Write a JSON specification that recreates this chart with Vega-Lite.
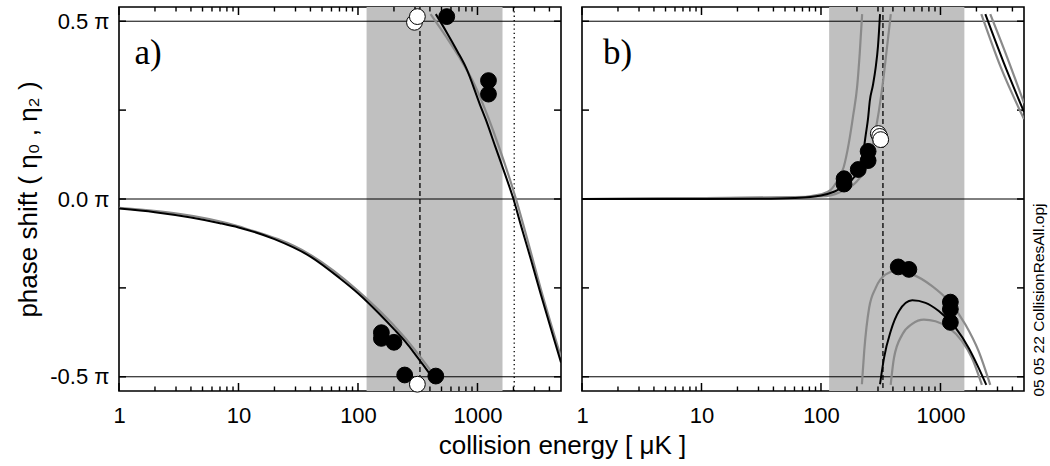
{
  "$schema": "https://vega.github.io/schema/vega-lite/v6.json",
  "background": "white",
  "padding": {"left": 14, "top": 5, "right": 5, "bottom": 5},
  "config": {
    "view": {"stroke": "black", "strokeWidth": 1.6},
    "font": "Liberation Sans",
    "axis": {"domain": false, "grid": false, "ticks": false, "tickSize": 0, "labelFont": "Liberation Sans", "titleFont": "Liberation Sans", "labelColor": "black", "titleColor": "black", "titleFontWeight": "normal", "labelFlush": false, "labelOverlap": false}
  },
  "datasets": {
    "bandA": [{"lo": 118, "hi": 1620}],
    "bandB": [{"lo": 117, "hi": 1585}],
    "hlines": [{"v": 0.5}, {"v": 0}, {"v": -0.5}],
    "vlinesA": [{"E": 330, "marker": "resonance"}, {"E": 2030, "marker": "zero crossing"}],
    "vlinesB": [{"E": 330, "marker": "resonance"}],
    "xMajor": [{"E": 1}, {"E": 10}, {"E": 100}, {"E": 1000}],
    "xMinor": [{"E": 2}, {"E": 3}, {"E": 4}, {"E": 5}, {"E": 6}, {"E": 7}, {"E": 8}, {"E": 9}, {"E": 20}, {"E": 30}, {"E": 40}, {"E": 50}, {"E": 60}, {"E": 70}, {"E": 80}, {"E": 90}, {"E": 200}, {"E": 300}, {"E": 400}, {"E": 500}, {"E": 600}, {"E": 700}, {"E": 800}, {"E": 900}, {"E": 2000}, {"E": 3000}, {"E": 4000}],
    "yTicks": [{"v": -0.5}, {"v": -0.25}, {"v": 0}, {"v": 0.25}, {"v": 0.5}],
    "curvesA": [
      {"curve": "a1g", "kind": "error", "E": 1, "v": -0.025}, {"curve": "a1g", "kind": "error", "E": 10, "v": -0.077}, {"curve": "a1g", "kind": "error", "E": 40, "v": -0.157}, {"curve": "a1g", "kind": "error", "E": 100, "v": -0.258}, {"curve": "a1g", "kind": "error", "E": 150, "v": -0.313}, {"curve": "a1g", "kind": "error", "E": 200, "v": -0.356}, {"curve": "a1g", "kind": "error", "E": 250, "v": -0.392}, {"curve": "a1g", "kind": "error", "E": 300, "v": -0.425}, {"curve": "a1g", "kind": "error", "E": 350, "v": -0.454}, {"curve": "a1g", "kind": "error", "E": 400, "v": -0.48}, {"curve": "a1g", "kind": "error", "E": 420, "v": -0.49},
      {"curve": "a1b", "kind": "best", "E": 1, "v": -0.027}, {"curve": "a1b", "kind": "best", "E": 2, "v": -0.037}, {"curve": "a1b", "kind": "best", "E": 4, "v": -0.052}, {"curve": "a1b", "kind": "best", "E": 7, "v": -0.068}, {"curve": "a1b", "kind": "best", "E": 10, "v": -0.08}, {"curve": "a1b", "kind": "best", "E": 20, "v": -0.113}, {"curve": "a1b", "kind": "best", "E": 40, "v": -0.162}, {"curve": "a1b", "kind": "best", "E": 70, "v": -0.222}, {"curve": "a1b", "kind": "best", "E": 100, "v": -0.265}, {"curve": "a1b", "kind": "best", "E": 150, "v": -0.322}, {"curve": "a1b", "kind": "best", "E": 200, "v": -0.366}, {"curve": "a1b", "kind": "best", "E": 250, "v": -0.402}, {"curve": "a1b", "kind": "best", "E": 300, "v": -0.436}, {"curve": "a1b", "kind": "best", "E": 350, "v": -0.466}, {"curve": "a1b", "kind": "best", "E": 393, "v": -0.489},
      {"curve": "a2g", "kind": "error", "E": 405, "v": 0.52}, {"curve": "a2g", "kind": "error", "E": 550, "v": 0.455}, {"curve": "a2g", "kind": "error", "E": 700, "v": 0.4}, {"curve": "a2g", "kind": "error", "E": 950, "v": 0.32}, {"curve": "a2g", "kind": "error", "E": 1250, "v": 0.223}, {"curve": "a2g", "kind": "error", "E": 1500, "v": 0.15}, {"curve": "a2g", "kind": "error", "E": 2100, "v": 0}, {"curve": "a2g", "kind": "error", "E": 2500, "v": -0.09}, {"curve": "a2g", "kind": "error", "E": 3500, "v": -0.27}, {"curve": "a2g", "kind": "error", "E": 5000, "v": -0.445},
      {"curve": "a2b", "kind": "best", "E": 448, "v": 0.52}, {"curve": "a2b", "kind": "best", "E": 550, "v": 0.47}, {"curve": "a2b", "kind": "best", "E": 680, "v": 0.415}, {"curve": "a2b", "kind": "best", "E": 800, "v": 0.37}, {"curve": "a2b", "kind": "best", "E": 1050, "v": 0.265}, {"curve": "a2b", "kind": "best", "E": 1175, "v": 0.223}, {"curve": "a2b", "kind": "best", "E": 1400, "v": 0.15}, {"curve": "a2b", "kind": "best", "E": 1700, "v": 0.07}, {"curve": "a2b", "kind": "best", "E": 2000, "v": 0}, {"curve": "a2b", "kind": "best", "E": 2300, "v": -0.072}, {"curve": "a2b", "kind": "best", "E": 2800, "v": -0.17}, {"curve": "a2b", "kind": "best", "E": 3400, "v": -0.27}, {"curve": "a2b", "kind": "best", "E": 4200, "v": -0.375}, {"curve": "a2b", "kind": "best", "E": 5000, "v": -0.46}
    ],
    "curvesB": [
      {"curve": "b1gl", "kind": "error", "E": 1, "v": 0}, {"curve": "b1gl", "kind": "error", "E": 60, "v": 0.004}, {"curve": "b1gl", "kind": "error", "E": 100, "v": 0.013}, {"curve": "b1gl", "kind": "error", "E": 120, "v": 0.025}, {"curve": "b1gl", "kind": "error", "E": 136, "v": 0.05}, {"curve": "b1gl", "kind": "error", "E": 155, "v": 0.09}, {"curve": "b1gl", "kind": "error", "E": 171, "v": 0.157}, {"curve": "b1gl", "kind": "error", "E": 186, "v": 0.235}, {"curve": "b1gl", "kind": "error", "E": 201, "v": 0.318}, {"curve": "b1gl", "kind": "error", "E": 211, "v": 0.41}, {"curve": "b1gl", "kind": "error", "E": 221, "v": 0.52},
      {"curve": "b1gr", "kind": "error", "E": 1, "v": 0}, {"curve": "b1gr", "kind": "error", "E": 100, "v": 0.007}, {"curve": "b1gr", "kind": "error", "E": 150, "v": 0.022}, {"curve": "b1gr", "kind": "error", "E": 200, "v": 0.05}, {"curve": "b1gr", "kind": "error", "E": 240, "v": 0.09}, {"curve": "b1gr", "kind": "error", "E": 265, "v": 0.135}, {"curve": "b1gr", "kind": "error", "E": 285, "v": 0.19}, {"curve": "b1gr", "kind": "error", "E": 306, "v": 0.25}, {"curve": "b1gr", "kind": "error", "E": 327, "v": 0.318}, {"curve": "b1gr", "kind": "error", "E": 355, "v": 0.42}, {"curve": "b1gr", "kind": "error", "E": 384, "v": 0.52},
      {"curve": "b2gu", "kind": "error", "E": 220, "v": -0.521}, {"curve": "b2gu", "kind": "error", "E": 230, "v": -0.428}, {"curve": "b2gu", "kind": "error", "E": 253, "v": -0.306}, {"curve": "b2gu", "kind": "error", "E": 287, "v": -0.25}, {"curve": "b2gu", "kind": "error", "E": 348, "v": -0.212}, {"curve": "b2gu", "kind": "error", "E": 422, "v": -0.203}, {"curve": "b2gu", "kind": "error", "E": 580, "v": -0.212}, {"curve": "b2gu", "kind": "error", "E": 851, "v": -0.245}, {"curve": "b2gu", "kind": "error", "E": 1172, "v": -0.287}, {"curve": "b2gu", "kind": "error", "E": 1616, "v": -0.353}, {"curve": "b2gu", "kind": "error", "E": 2085, "v": -0.428}, {"curve": "b2gu", "kind": "error", "E": 2610, "v": -0.523},
      {"curve": "b2gd", "kind": "error", "E": 383, "v": -0.523}, {"curve": "b2gd", "kind": "error", "E": 408, "v": -0.447}, {"curve": "b2gd", "kind": "error", "E": 479, "v": -0.381}, {"curve": "b2gd", "kind": "error", "E": 580, "v": -0.351}, {"curve": "b2gd", "kind": "error", "E": 726, "v": -0.339}, {"curve": "b2gd", "kind": "error", "E": 908, "v": -0.344}, {"curve": "b2gd", "kind": "error", "E": 1172, "v": -0.362}, {"curve": "b2gd", "kind": "error", "E": 1514, "v": -0.4}, {"curve": "b2gd", "kind": "error", "E": 1835, "v": -0.447}, {"curve": "b2gd", "kind": "error", "E": 2222, "v": -0.523},
      {"curve": "b3gl", "kind": "error", "E": 2197, "v": 0.52}, {"curve": "b3gl", "kind": "error", "E": 3200, "v": 0.37}, {"curve": "b3gl", "kind": "error", "E": 5000, "v": 0.225},
      {"curve": "b3gr", "kind": "error", "E": 2610, "v": 0.52}, {"curve": "b3gr", "kind": "error", "E": 3600, "v": 0.4}, {"curve": "b3gr", "kind": "error", "E": 5000, "v": 0.27},
      {"curve": "b1b", "kind": "best", "E": 1, "v": 0}, {"curve": "b1b", "kind": "best", "E": 10, "v": 0}, {"curve": "b1b", "kind": "best", "E": 30, "v": 0.0005}, {"curve": "b1b", "kind": "best", "E": 60, "v": 0.003}, {"curve": "b1b", "kind": "best", "E": 100, "v": 0.01}, {"curve": "b1b", "kind": "best", "E": 130, "v": 0.021}, {"curve": "b1b", "kind": "best", "E": 160, "v": 0.038}, {"curve": "b1b", "kind": "best", "E": 190, "v": 0.062}, {"curve": "b1b", "kind": "best", "E": 210, "v": 0.088}, {"curve": "b1b", "kind": "best", "E": 222, "v": 0.115}, {"curve": "b1b", "kind": "best", "E": 237, "v": 0.181}, {"curve": "b1b", "kind": "best", "E": 248, "v": 0.228}, {"curve": "b1b", "kind": "best", "E": 256, "v": 0.275}, {"curve": "b1b", "kind": "best", "E": 272, "v": 0.32}, {"curve": "b1b", "kind": "best", "E": 287, "v": 0.37}, {"curve": "b1b", "kind": "best", "E": 300, "v": 0.43}, {"curve": "b1b", "kind": "best", "E": 312, "v": 0.52},
      {"curve": "b2b", "kind": "best", "E": 312, "v": -0.521}, {"curve": "b2b", "kind": "best", "E": 337, "v": -0.447}, {"curve": "b2b", "kind": "best", "E": 383, "v": -0.372}, {"curve": "b2b", "kind": "best", "E": 450, "v": -0.315}, {"curve": "b2b", "kind": "best", "E": 580, "v": -0.285}, {"curve": "b2b", "kind": "best", "E": 750, "v": -0.292}, {"curve": "b2b", "kind": "best", "E": 968, "v": -0.315}, {"curve": "b2b", "kind": "best", "E": 1334, "v": -0.362}, {"curve": "b2b", "kind": "best", "E": 1722, "v": -0.419}, {"curve": "b2b", "kind": "best", "E": 2085, "v": -0.475}, {"curve": "b2b", "kind": "best", "E": 2418, "v": -0.523},
      {"curve": "b3b", "kind": "best", "E": 2373, "v": 0.52}, {"curve": "b3b", "kind": "best", "E": 3368, "v": 0.385}, {"curve": "b3b", "kind": "best", "E": 5000, "v": 0.245}
    ],
    "pointsA": [
      {"E": 553, "v": 0.513, "type": "filled"}, {"E": 1236, "v": 0.333, "type": "filled"}, {"E": 1236, "v": 0.295, "type": "filled"}, {"E": 157, "v": -0.376, "type": "filled"}, {"E": 157, "v": -0.392, "type": "filled"}, {"E": 200, "v": -0.403, "type": "filled"}, {"E": 246, "v": -0.495, "type": "filled"}, {"E": 448, "v": -0.498, "type": "filled"},
      {"E": 297, "v": 0.497, "type": "open"}, {"E": 314, "v": 0.513, "type": "open"}, {"E": 314, "v": -0.521, "type": "open"}
    ],
    "pointsB": [
      {"E": 156, "v": 0.042, "type": "filled"}, {"E": 156, "v": 0.057, "type": "filled"}, {"E": 205, "v": 0.083, "type": "filled"}, {"E": 248, "v": 0.108, "type": "filled"}, {"E": 248, "v": 0.134, "type": "filled"}, {"E": 443, "v": -0.191, "type": "filled"}, {"E": 544, "v": -0.198, "type": "filled"}, {"E": 1210, "v": -0.29, "type": "filled"}, {"E": 1210, "v": -0.31, "type": "filled"}, {"E": 1210, "v": -0.347, "type": "filled"},
      {"E": 302, "v": 0.184, "type": "open"}, {"E": 310, "v": 0.176, "type": "open"}, {"E": 316, "v": 0.167, "type": "open"}
    ],
    "one": [{}]
  },
  "spacing": 21,
  "bounds": "flush",
  "hconcat": [
    {
      "width": 442,
      "height": 384,
      "layer": [
        {
          "data": {"name": "bandA"},
          "mark": {"type": "rect", "color": "#c0c0c0"},
          "encoding": {
            "x": {"field": "lo", "type": "quantitative", "scale": {"type": "log", "domain": [1, 5000]}, "axis": {"orient": "bottom", "values": [1, 10, 100, 1000], "format": "d", "labelPadding": 14, "labelFontSize": 22, "title": "collision energy [ μK ]", "titleFontSize": 26, "titleX": 443, "titlePadding": 6}},
            "x2": {"field": "hi"}
          }
        },
        {
          "data": {"name": "hlines"},
          "mark": {"type": "rule", "color": "black", "strokeWidth": 1},
          "encoding": {
            "y": {"field": "v", "type": "quantitative", "scale": {"domain": [-0.54, 0.54]}, "axis": {"orient": "left", "values": [-0.5, 0, 0.5], "labelPadding": 10, "labelFontSize": 22, "labelExpr": "datum.value == 0.5 ? '0.5 π' : datum.value == 0 ? '0.0 π' : '-0.5 π'", "title": "phase shift ( η₀ , η₂ )", "titleFontSize": 26, "titlePadding": 8}}
          }
        },
        {
          "data": {"name": "vlinesA"},
          "mark": {"type": "rule", "color": "black", "strokeWidth": 1.3},
          "encoding": {
            "x": {"field": "E", "type": "quantitative", "scale": {"type": "log", "domain": [1, 5000]}, "axis": null},
            "strokeDash": {"field": "marker", "type": "nominal", "scale": {"domain": ["resonance", "zero crossing"], "range": [[5, 3], [1.3, 3]]}, "legend": null}
          }
        },
        {
          "data": {"name": "xMajor"},
          "mark": {"type": "rule", "color": "black", "strokeWidth": 1.5},
          "encoding": {
            "x": {"field": "E", "type": "quantitative", "scale": {"type": "log", "domain": [1, 5000]}, "axis": null},
            "y": {"datum": -0.54, "type": "quantitative", "scale": {"domain": [-0.54, 0.54]}, "axis": null},
            "y2": {"datum": -0.5175}
          }
        },
        {
          "data": {"name": "xMajor"},
          "mark": {"type": "rule", "color": "black", "strokeWidth": 1.5},
          "encoding": {
            "x": {"field": "E", "type": "quantitative", "scale": {"type": "log", "domain": [1, 5000]}, "axis": null},
            "y": {"datum": 0.54, "type": "quantitative", "scale": {"domain": [-0.54, 0.54]}, "axis": null},
            "y2": {"datum": 0.5175}
          }
        },
        {
          "data": {"name": "xMinor"},
          "mark": {"type": "rule", "color": "black", "strokeWidth": 1.4},
          "encoding": {
            "x": {"field": "E", "type": "quantitative", "scale": {"type": "log", "domain": [1, 5000]}, "axis": null},
            "y": {"datum": -0.54, "type": "quantitative", "scale": {"domain": [-0.54, 0.54]}, "axis": null},
            "y2": {"datum": -0.5273}
          }
        },
        {
          "data": {"name": "xMinor"},
          "mark": {"type": "rule", "color": "black", "strokeWidth": 1.4},
          "encoding": {
            "x": {"field": "E", "type": "quantitative", "scale": {"type": "log", "domain": [1, 5000]}, "axis": null},
            "y": {"datum": 0.54, "type": "quantitative", "scale": {"domain": [-0.54, 0.54]}, "axis": null},
            "y2": {"datum": 0.5273}
          }
        },
        {
          "data": {"name": "yTicks"},
          "mark": {"type": "rule", "color": "black", "strokeWidth": 1.5},
          "encoding": {
            "y": {"field": "v", "type": "quantitative", "scale": {"domain": [-0.54, 0.54]}, "axis": null},
            "x": {"datum": 1, "type": "quantitative", "scale": {"type": "log", "domain": [1, 5000]}, "axis": null},
            "x2": {"datum": 1.144}
          }
        },
        {
          "data": {"name": "yTicks"},
          "mark": {"type": "rule", "color": "black", "strokeWidth": 1.5},
          "encoding": {
            "y": {"field": "v", "type": "quantitative", "scale": {"domain": [-0.54, 0.54]}, "axis": null},
            "x": {"datum": 5000, "type": "quantitative", "scale": {"type": "log", "domain": [1, 5000]}, "axis": null},
            "x2": {"datum": 4371}
          }
        },
        {
          "data": {"name": "curvesA"},
          "transform": [{"filter": "datum.kind == 'error'"}],
          "mark": {"type": "line", "color": "#8a8a8a", "strokeWidth": 2.2, "clip": true, "interpolate": "monotone"},
          "encoding": {
            "x": {"field": "E", "type": "quantitative", "scale": {"type": "log", "domain": [1, 5000]}, "axis": null},
            "y": {"field": "v", "type": "quantitative", "scale": {"domain": [-0.54, 0.54]}, "axis": null},
            "detail": {"field": "curve"}
          }
        },
        {
          "data": {"name": "curvesA"},
          "transform": [{"filter": "datum.kind == 'best'"}],
          "mark": {"type": "line", "color": "black", "strokeWidth": 2, "clip": true, "interpolate": "monotone"},
          "encoding": {
            "x": {"field": "E", "type": "quantitative", "scale": {"type": "log", "domain": [1, 5000]}, "axis": null},
            "y": {"field": "v", "type": "quantitative", "scale": {"domain": [-0.54, 0.54]}, "axis": null},
            "detail": {"field": "curve"}
          }
        },
        {
          "data": {"name": "pointsA"},
          "mark": {"type": "circle", "size": 250, "stroke": "black", "strokeWidth": 1, "opacity": 1},
          "encoding": {
            "x": {"field": "E", "type": "quantitative", "scale": {"type": "log", "domain": [1, 5000]}, "axis": null},
            "y": {"field": "v", "type": "quantitative", "scale": {"domain": [-0.54, 0.54]}, "axis": null},
            "fill": {"field": "type", "type": "nominal", "scale": {"domain": ["filled", "open"], "range": ["black", "white"]}, "legend": null}
          }
        },
        {
          "data": {"name": "one"},
          "mark": {"type": "text", "font": "Liberation Serif", "fontSize": 35, "align": "left", "baseline": "alphabetic"},
          "encoding": {
            "x": {"datum": 1.35, "type": "quantitative", "scale": {"type": "log", "domain": [1, 5000]}, "axis": null},
            "y": {"datum": 0.38, "type": "quantitative", "scale": {"domain": [-0.54, 0.54]}, "axis": null},
            "text": {"value": "a)"}
          }
        }
      ],
      "resolve": {"axis": {"x": "independent", "y": "independent"}}
    },
    {
      "width": 442,
      "height": 384,
      "layer": [
        {
          "data": {"name": "bandB"},
          "mark": {"type": "rect", "color": "#c0c0c0"},
          "encoding": {
            "x": {"field": "lo", "type": "quantitative", "scale": {"type": "log", "domain": [1, 5000]}, "axis": {"orient": "bottom", "values": [1, 10, 100, 1000], "format": "d", "labelPadding": 14, "labelFontSize": 22, "title": null}},
            "x2": {"field": "hi"}
          }
        },
        {
          "data": {"name": "hlines"},
          "mark": {"type": "rule", "color": "black", "strokeWidth": 1},
          "encoding": {
            "y": {"field": "v", "type": "quantitative", "scale": {"domain": [-0.54, 0.54]}, "axis": {"orient": "right", "values": [0], "labels": false, "title": "05 05 22 CollisionResAll.opj", "titleFontSize": 15.5, "titleAngle": -90, "titleAlign": "left", "titleBaseline": "top", "titleY": 389, "titlePadding": 7}}
          }
        },
        {
          "data": {"name": "vlinesB"},
          "mark": {"type": "rule", "color": "black", "strokeWidth": 1.3},
          "encoding": {
            "x": {"field": "E", "type": "quantitative", "scale": {"type": "log", "domain": [1, 5000]}, "axis": null},
            "strokeDash": {"field": "marker", "type": "nominal", "scale": {"domain": ["resonance", "zero crossing"], "range": [[5, 3], [1.3, 3]]}, "legend": null}
          }
        },
        {
          "data": {"name": "xMajor"},
          "mark": {"type": "rule", "color": "black", "strokeWidth": 1.5},
          "encoding": {
            "x": {"field": "E", "type": "quantitative", "scale": {"type": "log", "domain": [1, 5000]}, "axis": null},
            "y": {"datum": -0.54, "type": "quantitative", "scale": {"domain": [-0.54, 0.54]}, "axis": null},
            "y2": {"datum": -0.5175}
          }
        },
        {
          "data": {"name": "xMajor"},
          "mark": {"type": "rule", "color": "black", "strokeWidth": 1.5},
          "encoding": {
            "x": {"field": "E", "type": "quantitative", "scale": {"type": "log", "domain": [1, 5000]}, "axis": null},
            "y": {"datum": 0.54, "type": "quantitative", "scale": {"domain": [-0.54, 0.54]}, "axis": null},
            "y2": {"datum": 0.5175}
          }
        },
        {
          "data": {"name": "xMinor"},
          "mark": {"type": "rule", "color": "black", "strokeWidth": 1.4},
          "encoding": {
            "x": {"field": "E", "type": "quantitative", "scale": {"type": "log", "domain": [1, 5000]}, "axis": null},
            "y": {"datum": -0.54, "type": "quantitative", "scale": {"domain": [-0.54, 0.54]}, "axis": null},
            "y2": {"datum": -0.5273}
          }
        },
        {
          "data": {"name": "xMinor"},
          "mark": {"type": "rule", "color": "black", "strokeWidth": 1.4},
          "encoding": {
            "x": {"field": "E", "type": "quantitative", "scale": {"type": "log", "domain": [1, 5000]}, "axis": null},
            "y": {"datum": 0.54, "type": "quantitative", "scale": {"domain": [-0.54, 0.54]}, "axis": null},
            "y2": {"datum": 0.5273}
          }
        },
        {
          "data": {"name": "yTicks"},
          "mark": {"type": "rule", "color": "black", "strokeWidth": 1.5},
          "encoding": {
            "y": {"field": "v", "type": "quantitative", "scale": {"domain": [-0.54, 0.54]}, "axis": null},
            "x": {"datum": 1, "type": "quantitative", "scale": {"type": "log", "domain": [1, 5000]}, "axis": null},
            "x2": {"datum": 1.144}
          }
        },
        {
          "data": {"name": "yTicks"},
          "mark": {"type": "rule", "color": "black", "strokeWidth": 1.5},
          "encoding": {
            "y": {"field": "v", "type": "quantitative", "scale": {"domain": [-0.54, 0.54]}, "axis": null},
            "x": {"datum": 5000, "type": "quantitative", "scale": {"type": "log", "domain": [1, 5000]}, "axis": null},
            "x2": {"datum": 4371}
          }
        },
        {
          "data": {"name": "curvesB"},
          "transform": [{"filter": "datum.kind == 'error'"}],
          "mark": {"type": "line", "color": "#8a8a8a", "strokeWidth": 2.2, "clip": true, "interpolate": "monotone"},
          "encoding": {
            "x": {"field": "E", "type": "quantitative", "scale": {"type": "log", "domain": [1, 5000]}, "axis": null},
            "y": {"field": "v", "type": "quantitative", "scale": {"domain": [-0.54, 0.54]}, "axis": null},
            "detail": {"field": "curve"}
          }
        },
        {
          "data": {"name": "curvesB"},
          "transform": [{"filter": "datum.kind == 'best'"}],
          "mark": {"type": "line", "color": "black", "strokeWidth": 2, "clip": true, "interpolate": "monotone"},
          "encoding": {
            "x": {"field": "E", "type": "quantitative", "scale": {"type": "log", "domain": [1, 5000]}, "axis": null},
            "y": {"field": "v", "type": "quantitative", "scale": {"domain": [-0.54, 0.54]}, "axis": null},
            "detail": {"field": "curve"}
          }
        },
        {
          "data": {"name": "pointsB"},
          "mark": {"type": "circle", "size": 250, "stroke": "black", "strokeWidth": 1, "opacity": 1},
          "encoding": {
            "x": {"field": "E", "type": "quantitative", "scale": {"type": "log", "domain": [1, 5000]}, "axis": null},
            "y": {"field": "v", "type": "quantitative", "scale": {"domain": [-0.54, 0.54]}, "axis": null},
            "fill": {"field": "type", "type": "nominal", "scale": {"domain": ["filled", "open"], "range": ["black", "white"]}, "legend": null}
          }
        },
        {
          "data": {"name": "one"},
          "mark": {"type": "text", "font": "Liberation Serif", "fontSize": 35, "align": "left", "baseline": "alphabetic"},
          "encoding": {
            "x": {"datum": 1.5, "type": "quantitative", "scale": {"type": "log", "domain": [1, 5000]}, "axis": null},
            "y": {"datum": 0.38, "type": "quantitative", "scale": {"domain": [-0.54, 0.54]}, "axis": null},
            "text": {"value": "b)"}
          }
        }
      ],
      "resolve": {"axis": {"x": "independent", "y": "independent"}}
    }
  ]
}
